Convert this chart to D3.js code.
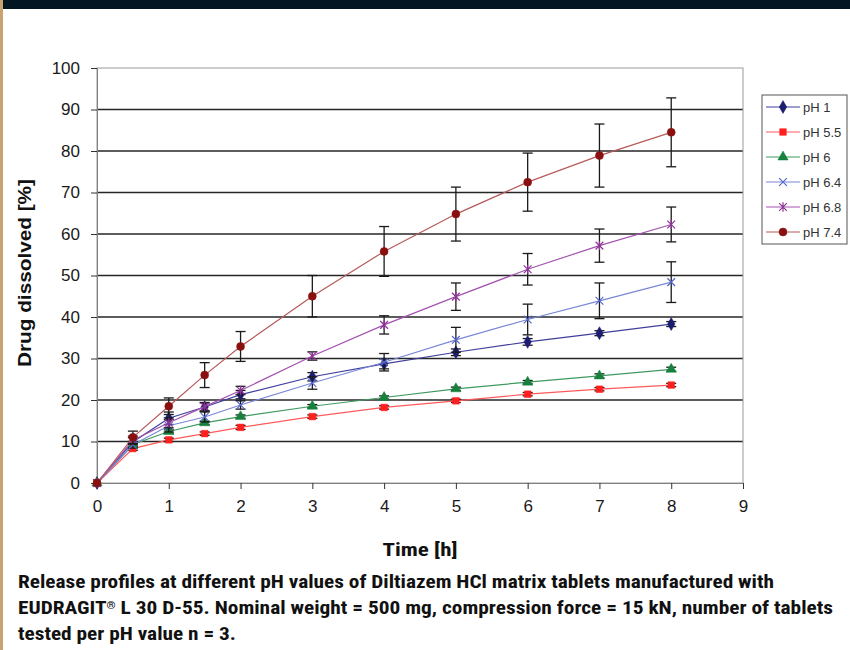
<!DOCTYPE html>
<html>
<head>
<meta charset="utf-8">
<script src="https://cdn.jsdelivr.net/npm/d3@7/dist/d3.min.js"></script>
<style>
  body { margin: 0; background: #fff; }
  svg { display: block; }
</style>
</head>
<body>
<svg id="chart" width="850" height="650"></svg>
<script>
// time points [h]
const hours = [0, 0.5, 1, 1.5, 2, 3, 4, 5, 6, 7, 8];

// mean drug dissolved [%] per pH
const ph1 = [0, 9.9, 15.6, 18.3, 21.3, 25.6, 28.7, 31.5, 34.0, 36.1, 38.3];
const ph55 = [0, 8.3, 10.4, 11.9, 13.4, 16.0, 18.2, 19.8, 21.4, 22.6, 23.6];
const ph6 = [0, 9.3, 12.4, 14.5, 16.0, 18.5, 20.6, 22.7, 24.3, 25.8, 27.4];
const ph64 = [0, 9.2, 13.8, 15.9, 18.8, 24.1, 29.1, 34.5, 39.4, 43.9, 48.4];
const ph68 = [0, 10.3, 14.5, 18.4, 22.3, 30.6, 38.1, 44.9, 51.5, 57.2, 62.3];
const ph74 = [0, 11.0, 18.5, 26.0, 32.9, 45.0, 55.8, 64.8, 72.5, 78.9, 84.5];

// standard deviations (n = 3)
const ph1Err = [0, 1, 1.5, 1, 1, 1, 1.2, 0.8, 0.8, 0.6, 0.6];
const ph55Err = [0, 0.4, 0.4, 0.4, 0.5, 0.4, 0.4, 0.4, 0.4, 0.4, 0.4];
const ph6Err = [0, 0.4, 0.4, 0.4, 0.4, 0.4, 0.4, 0.4, 0.4, 0.5, 0.5];
const ph64Err = [0, 0.8, 1.5, 1.2, 1, 1.5, 2.1, 3, 3.7, 4.3, 4.9];
const ph68Err = [0, 1, 1.2, 1, 1, 1, 2.2, 3.3, 3.8, 4, 4.2];
const ph74Err = [0, 1.5, 2, 3, 3.6, 5, 6, 6.5, 7, 7.6, 8.3];

const seriesNames = ["pH 1", "pH 5.5", "pH 6", "pH 6.4", "pH 6.8", "pH 7.4"];
const xTicks = [0, 1, 2, 3, 4, 5, 6, 7, 8, 9];
const yTicks = [0, 10, 20, 30, 40, 50, 60, 70, 80, 90, 100];

// caption, split into runs so the ® can be raised
const captionLines = [
  [{ t: "Release profiles at different pH values of Diltiazem HCl matrix tablets manufactured with" }],
  [{ t: "EUDRAGIT" }, { t: "\u00AE", sup: true }, { t: " L 30 D-55. Nominal weight = 500 mg, compression force = 15 kN, number of tablets" }],
  [{ t: "tested per pH value n = 3." }]
];

// custom marker shapes
const symbolX = {
  draw(ctx, size) {
    const r = Math.sqrt(size) / 2;
    ctx.moveTo(-r, -r); ctx.lineTo(r, r);
    ctx.moveTo(r, -r); ctx.lineTo(-r, r);
  }
};
const symbolAsterisk = {
  draw(ctx, size) {
    const r = Math.sqrt(size) / 2;
    ctx.moveTo(-r, -r); ctx.lineTo(r, r);
    ctx.moveTo(r, -r); ctx.lineTo(-r, r);
    ctx.moveTo(0, -r * 1.2); ctx.lineTo(0, r * 1.2);
  }
};

const series = [
  { name: seriesNames[0], values: ph1, errors: ph1Err, line: "#40409c", mark: "#1c1c70", symbol: d3.symbolDiamond, size: 48, filled: true },
  { name: seriesNames[1], values: ph55, errors: ph55Err, line: "#ff5a5a", mark: "#ff1f1f", symbol: d3.symbolSquare, size: 44, filled: true },
  { name: seriesNames[2], values: ph6, errors: ph6Err, line: "#3f9a60", mark: "#16803c", symbol: d3.symbolTriangle, size: 46, filled: true },
  { name: seriesNames[3], values: ph64, errors: ph64Err, line: "#7a88d6", mark: "#5566cc", symbol: symbolX, size: 60, filled: false },
  { name: seriesNames[4], values: ph68, errors: ph68Err, line: "#a452b0", mark: "#8e3496", symbol: symbolAsterisk, size: 60, filled: false },
  { name: seriesNames[5], values: ph74, errors: ph74Err, line: "#b65a5a", mark: "#8a1010", symbol: d3.symbolCircle, size: 50, filled: true }
];

const dms = { left: 97, right: 743, top: 68, bottom: 483 };
const sansFont = "'Liberation Sans', Arial, sans-serif";
const narrowFont = "'Liberation Sans Narrow', 'Arial Narrow', 'Roboto Condensed', 'Liberation Sans', sans-serif";

const svg = d3.select("#chart");

// page frame: dark banner + tan rule on the left
svg.append("rect").attr("x", 3).attr("y", 0).attr("width", 847).attr("height", 9).attr("fill", "#011522");
svg.append("rect").attr("x", 0).attr("y", 0).attr("width", 3).attr("height", 650).attr("fill", "#c9a272");

const xScale = d3.scaleLinear().domain([0, 9]).range([dms.left, dms.right]);
const yScale = d3.scaleLinear().domain([0, 100]).range([dms.bottom, dms.top]);

// gridlines
svg.append("g")
  .selectAll("line")
  .data(yTicks.filter((d) => d > 0 && d < 100))
  .join("line")
  .attr("x1", dms.left)
  .attr("x2", dms.right)
  .attr("y1", yScale)
  .attr("y2", yScale)
  .attr("stroke", "#262626")
  .attr("stroke-width", 1.3);

// plot border
svg.append("rect")
  .attr("x", dms.left)
  .attr("y", dms.top)
  .attr("width", dms.right - dms.left)
  .attr("height", dms.bottom - dms.top)
  .attr("fill", "none")
  .attr("stroke", "#9a9a9a")
  .attr("stroke-width", 1);

// axes
const yAxis = svg.append("g")
  .attr("transform", `translate(${dms.left},0)`)
  .call(d3.axisLeft(yScale).tickValues(yTicks).tickSize(6).tickPadding(11));
const xAxis = svg.append("g")
  .attr("transform", `translate(0,${dms.bottom})`)
  .call(d3.axisBottom(xScale).tickValues(xTicks).tickSize(6).tickPadding(11));

[yAxis, xAxis].forEach((ax) => {
  ax.select(".domain").attr("stroke", "#808080");
  ax.selectAll(".tick line").attr("stroke", "#333");
  ax.selectAll(".tick text")
    .attr("fill", "#1a1a1a")
    .style("font-family", sansFont)
    .style("font-size", "17px");
});

// axis titles
svg.append("text")
  .attr("transform", "translate(31,273) rotate(-90)")
  .attr("text-anchor", "middle")
  .style("font-family", sansFont)
  .style("font-weight", "bold")
  .style("font-size", "18px")
  .attr("fill", "#111")
  .attr("textLength", 188)
  .attr("lengthAdjust", "spacingAndGlyphs")
  .text("Drug dissolved [%]");

svg.append("text")
  .attr("x", 420)
  .attr("y", 556)
  .attr("text-anchor", "middle")
  .style("font-family", narrowFont)
  .style("font-weight", "bold")
  .style("font-size", "18px")
  .attr("fill", "#111")
  .attr("textLength", 75)
  .attr("lengthAdjust", "spacingAndGlyphs")
  .text("Time [h]");

// series
const lineGenerator = d3.line()
  .x((d) => xScale(d.t))
  .y((d) => yScale(d.v));

const plot = svg.append("g");

series.forEach((s) => {
  const pts = hours.map((t, i) => ({ t, v: s.values[i], e: s.errors[i] }));
  const g = plot.append("g");

  g.append("path")
    .attr("d", lineGenerator(pts))
    .attr("fill", "none")
    .attr("stroke", s.line)
    .attr("stroke-width", 1.2);

  // error bars
  const eb = g.selectAll(".err")
    .data(pts.filter((d) => d.e > 0))
    .join("g")
    .attr("stroke", "#1a1a1a")
    .attr("stroke-width", 1.3);
  eb.append("line")
    .attr("x1", (d) => xScale(d.t)).attr("x2", (d) => xScale(d.t))
    .attr("y1", (d) => yScale(d.v - d.e)).attr("y2", (d) => yScale(d.v + d.e));
  eb.append("line")
    .attr("x1", (d) => xScale(d.t) - 5).attr("x2", (d) => xScale(d.t) + 5)
    .attr("y1", (d) => yScale(d.v + d.e)).attr("y2", (d) => yScale(d.v + d.e));
  eb.append("line")
    .attr("x1", (d) => xScale(d.t) - 5).attr("x2", (d) => xScale(d.t) + 5)
    .attr("y1", (d) => yScale(d.v - d.e)).attr("y2", (d) => yScale(d.v - d.e));

  g.selectAll(".mark")
    .data(pts)
    .join("path")
    .attr("transform", (d) => `translate(${xScale(d.t)},${yScale(d.v)})`)
    .attr("d", d3.symbol().type(s.symbol).size(s.size))
    .attr("fill", s.filled ? s.mark : "none")
    .attr("stroke", s.mark)
    .attr("stroke-width", s.filled ? 0.5 : 1.2);
});

// legend
const legend = svg.append("g").attr("transform", "translate(762,95)");
legend.append("rect")
  .attr("width", 85)
  .attr("height", 149)
  .attr("fill", "#fff")
  .attr("stroke", "#555")
  .attr("stroke-width", 1);

const items = legend.selectAll(".item")
  .data(series)
  .join("g")
  .attr("transform", (d, i) => `translate(0,${12 + i * 25})`);
items.append("line")
  .attr("x1", 4).attr("x2", 38)
  .attr("stroke", (d) => d.line)
  .attr("stroke-width", 1.2);
items.append("path")
  .attr("transform", "translate(21,0)")
  .attr("d", (d) => d3.symbol().type(d.symbol).size(d.size)())
  .attr("fill", (d) => (d.filled ? d.mark : "none"))
  .attr("stroke", (d) => d.mark)
  .attr("stroke-width", (d) => (d.filled ? 0.5 : 1.2));
items.append("text")
  .attr("x", 41)
  .attr("y", 5)
  .style("font-family", sansFont)
  .style("font-size", "13px")
  .attr("fill", "#333")
  .text((d) => d.name);

// caption
const captionWidths = [756, 815, 218];
const captionText = svg.append("g")
  .selectAll("text")
  .data(captionLines)
  .join("text")
  .attr("x", 18)
  .attr("y", (d, i) => 588 + i * 26)
  .attr("textLength", (d, i) => captionWidths[i])
  .attr("lengthAdjust", "spacingAndGlyphs")
  .style("font-family", narrowFont)
  .style("font-weight", "bold")
  .style("font-size", "18.5px")
  .attr("fill", "#111");
captionText.selectAll("tspan")
  .data((d) => d)
  .join("tspan")
  .attr("baseline-shift", (d) => (d.sup ? "super" : null))
  .style("font-size", (d) => (d.sup ? "10px" : null))
  .text((d) => d.t);
</script>
</body>
</html>
